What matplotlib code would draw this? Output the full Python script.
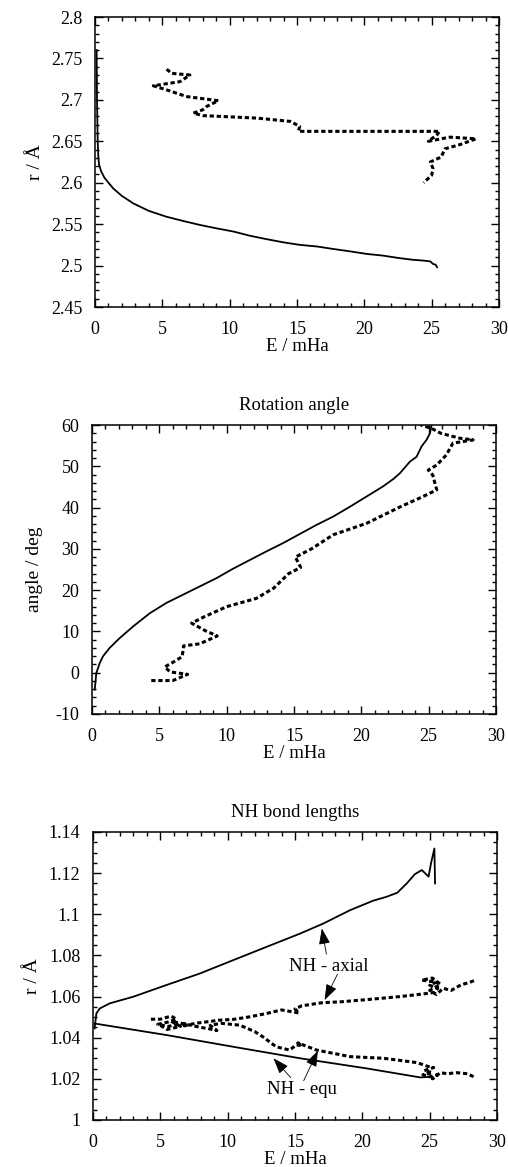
import numpy as np
import matplotlib
matplotlib.use('Agg')
import matplotlib.pyplot as plt
from matplotlib.ticker import MultipleLocator

plt.rcParams['font.family'] = ['Liberation Serif', 'DejaVu Serif']
plt.rcParams['font.size'] = 13
plt.rcParams['axes.unicode_minus'] = False

# --- panel 1: N-N distance r vs E ---
r_solid_E = [0.12, 0.15, 0.2, 0.25, 0.3, 0.45, 0.7, 1.0, 1.36, 2.0, 2.85, 4.0, 5.3, 6.5, 7.8,
             9.0, 10.3, 11.5, 12.7, 14.0, 15.2, 16.5, 17.7, 19.0, 20.2, 21.4, 22.6,
             23.6, 24.4, 24.9, 25.1, 25.3, 25.4]
r_solid_r = [2.76, 2.70, 2.65, 2.63, 2.622, 2.614, 2.606, 2.600, 2.593, 2.584, 2.575, 2.566,
             2.559, 2.554, 2.549, 2.545, 2.541, 2.536, 2.532, 2.528, 2.525, 2.523, 2.520,
             2.517, 2.514, 2.512, 2.509, 2.507, 2.506, 2.505, 2.502, 2.501, 2.498]
r_dash_E = [5.32, 5.69, 7.05, 6.31, 4.33, 5.32, 6.8, 9.16, 8.29, 8.0, 7.3, 8.0, 12.0, 14.5,
            15.2, 15.1, 25.6, 25.4, 24.75, 26.35, 28.3, 27.1, 26.0, 25.7, 24.9, 25.1,
            25.0, 24.4]
r_dash_r = [2.737, 2.732, 2.730, 2.722, 2.717, 2.712, 2.704, 2.699, 2.692, 2.688, 2.684,
            2.681, 2.678, 2.674, 2.668, 2.662, 2.662, 2.658, 2.650, 2.655, 2.653, 2.646,
            2.641, 2.631, 2.625, 2.617, 2.609, 2.600]

# --- panel 2: rotation angle ---
ang_solid_E = [0.2, 0.25, 0.32, 0.57, 0.82, 1.31, 2.06, 3.05, 4.29, 5.52, 6.76, 8.0, 9.24,
               10.48, 11.72, 12.96, 14.19, 15.43, 16.67, 17.9, 19.15, 20.4, 21.6, 22.37,
               22.86, 23.6, 24.1, 24.47, 24.84, 25.1, 25.2]
ang_solid_a = [-4.1, -2.5, -0.1, 2.3, 4.0, 6.0, 8.4, 11.2, 14.4, 16.9, 18.9, 20.9, 22.9,
               25.2, 27.3, 29.4, 31.4, 33.6, 35.8, 37.8, 40.2, 42.7, 45.1, 46.9, 48.3,
               51.1, 52.3, 54.8, 56.4, 58.0, 59.8]
ang_dash_E = [4.4, 6.0, 7.1, 5.8, 5.4, 6.0, 6.7, 6.8, 8.0, 9.3, 8.4, 7.4, 8.3, 10.0, 12.2,
              13.5, 14.6, 15.5, 15.1, 16.3, 17.9, 20.4, 22.9, 24.6, 25.6, 25.3, 24.97,
              25.6, 26.3, 26.8, 28.3, 27.3, 25.9, 25.2, 24.4]
ang_dash_a = [-1.9, -1.9, -0.4, 0.2, 1.4, 2.5, 3.9, 6.5, 7.0, 8.9, 10.2, 12.0, 13.5, 16.0,
              18.0, 20.5, 24.0, 25.5, 28.0, 30.0, 33.4, 36.2, 40.2, 42.7, 44.3, 47.9,
              49.1, 50.3, 52.7, 55.6, 56.4, 56.8, 58.0, 59.2, 60.0]

# --- panel 3: NH bond lengths ---
ax_solid_E = [0.12, 0.25, 0.5, 1.24, 2.98, 5.45, 7.93, 10.41, 12.9, 15.37, 17.1, 19.09,
              20.8, 21.8, 22.6, 23.3, 23.9, 24.42, 24.92, 25.1, 25.35, 25.4]
ax_solid_r = [1.0445, 1.0518, 1.0542, 1.0567, 1.0599, 1.0656, 1.0712, 1.0777, 1.0842,
              1.0906, 1.0955, 1.102, 1.1066, 1.1085, 1.1105, 1.1150, 1.1195, 1.1215,
              1.1183, 1.1248, 1.132, 1.115]
eq_solid_E = [0.12, 5.45, 10.41, 15.37, 20.3, 24.3, 25.0]
eq_solid_r = [1.0469, 1.0413, 1.0356, 1.030, 1.0251, 1.0207, 1.021]
ax_dash_E = [4.3, 5.0, 5.8, 6.2, 5.5, 4.8, 5.6, 6.3, 7.0, 6.6, 7.6, 8.2, 8.8, 9.3, 10.4,
             11.5, 12.9, 14.0, 14.9, 15.3, 15.0, 15.5, 17.0, 18.5, 20.3, 22.8, 24.8, 25.3,
             25.6, 25.0, 25.5, 24.4, 25.2, 25.8, 25.0, 25.5, 26.0, 26.6, 27.3, 28.0, 28.4]
ax_dash_r = [1.049, 1.049, 1.0505, 1.049, 1.0475, 1.0465, 1.0455, 1.0465, 1.047, 1.0455,
             1.047, 1.0475, 1.048, 1.0485, 1.0489, 1.050, 1.0518, 1.0535, 1.0525, 1.052,
             1.054, 1.0555, 1.057, 1.0575, 1.0585, 1.060, 1.0615, 1.062, 1.064, 1.0655,
             1.067, 1.068, 1.069, 1.066, 1.063, 1.061, 1.064, 1.063, 1.0656, 1.067, 1.068]
eq_dash_E = [5.0, 5.5, 6.5, 5.8, 7.3, 8.0, 8.5, 9.2, 8.7, 9.5, 10.9, 12.0, 12.6, 13.6, 14.6,
             15.1, 15.5, 15.2, 16.6, 19.1, 21.6, 24.05, 24.9, 25.3, 24.6, 25.2, 24.5, 25.0,
             25.6, 25.2, 25.8, 26.3, 27.0, 27.8, 28.4]
eq_dash_r = [1.046, 1.044, 1.0455, 1.048, 1.046, 1.045, 1.0445, 1.0435, 1.046, 1.047,
             1.0461, 1.043, 1.0405, 1.0356, 1.034, 1.0365, 1.0362, 1.0375, 1.034, 1.0308,
             1.030, 1.0279, 1.026, 1.0255, 1.024, 1.023, 1.022, 1.021, 1.022, 1.020,
             1.023, 1.0225, 1.023, 1.0225, 1.0206]

solid = dict(color='k', lw=1.3, ls='-')
dashed = dict(color='k', lw=2.2, ls=(0, (1.4, 0.9)))


def style_axes(ax, ymaj, ymin):
    ax.set_xlim(0, 30)
    ax.xaxis.set_major_locator(MultipleLocator(5))
    ax.xaxis.set_minor_locator(MultipleLocator(1))
    ax.yaxis.set_major_locator(MultipleLocator(ymaj))
    ax.yaxis.set_minor_locator(MultipleLocator(ymin))
    ax.tick_params(which='both', direction='in', top=True, right=True, width=1.0)
    ax.tick_params(which='major', length=6)
    ax.tick_params(axis='x', which='major', pad=10)
    ax.tick_params(axis='y', which='major', pad=9)
    ax.tick_params(which='minor', length=3)
    for s in ax.spines.values():
        s.set_linewidth(1.1)
    ax.set_xlabel('E / mHa', labelpad=0, fontsize=13.5)


fig = plt.figure(figsize=(5.08, 11.67), dpi=100)
W, H = 508, 1167

# top panel
ax1 = fig.add_axes([95 / W, 1 - 307 / H, 404 / W, 290 / H])
ax1.plot(r_solid_E, r_solid_r, **solid)
ax1.plot(r_dash_E, r_dash_r, **dashed)
ax1.set_ylim(2.45, 2.8)
style_axes(ax1, 0.05, 0.01)
ax1.set_yticks([2.45, 2.5, 2.55, 2.6, 2.65, 2.7, 2.75, 2.8])
ax1.set_yticklabels(['2.45', '2.5', '2.55', '2.6', '2.65', '2.7', '2.75', '2.8'])
ax1.set_ylabel('r / Å', labelpad=5, fontsize=14)

# middle panel
ax2 = fig.add_axes([92 / W, 1 - 714 / H, 404 / W, 289 / H])
ax2.plot(ang_solid_E, ang_solid_a, **solid)
ax2.plot(ang_dash_E, ang_dash_a, **dashed)
ax2.set_ylim(-10, 60)
style_axes(ax2, 10, 2)
ax2.set_ylabel('angle / deg', labelpad=9, fontsize=14)
ax2.set_title('Rotation angle', fontsize=13.5, pad=11)

# bottom panel
ax3 = fig.add_axes([93 / W, 1 - 1120 / H, 404 / W, 288 / H])
ax3.plot(ax_solid_E, ax_solid_r, **solid)
ax3.plot(eq_solid_E, eq_solid_r, **solid)
ax3.plot(ax_dash_E, ax_dash_r, **dashed)
ax3.plot(eq_dash_E, eq_dash_r, **dashed)
ax3.set_ylim(1.0, 1.14)
style_axes(ax3, 0.02, 0.005)
ax3.set_yticks([1.0, 1.02, 1.04, 1.06, 1.08, 1.1, 1.12, 1.14])
ax3.set_yticklabels(['1', '1.02', '1.04', '1.06', '1.08', '1.1', '1.12', '1.14'])
ax3.set_ylabel('r / Å', labelpad=6, fontsize=14)
ax3.set_title('NH bond lengths', fontsize=13.5, pad=11)

arrow = dict(arrowstyle='-|>,head_length=0.7,head_width=0.25', color='k', lw=0.6,
             mutation_scale=14, shrinkA=1, shrinkB=0)
ax3.annotate('NH - axial', xy=(16.99, 1.0931), xytext=(17.5, 1.0745),
             ha='center', va='center', arrowprops=arrow, fontsize=13.5)
ax3.annotate('', xy=(17.2, 1.0583), xytext=(18.2, 1.0715), arrowprops=arrow)
ax3.annotate('NH - equ', xy=(13.4, 1.0300), xytext=(15.5, 1.0146),
             ha='center', va='center', arrowprops=arrow, fontsize=13.5)
ax3.annotate('', xy=(16.7, 1.0337), xytext=(15.6, 1.0185), arrowprops=arrow)

fig.savefig('out.png', dpi=100)
